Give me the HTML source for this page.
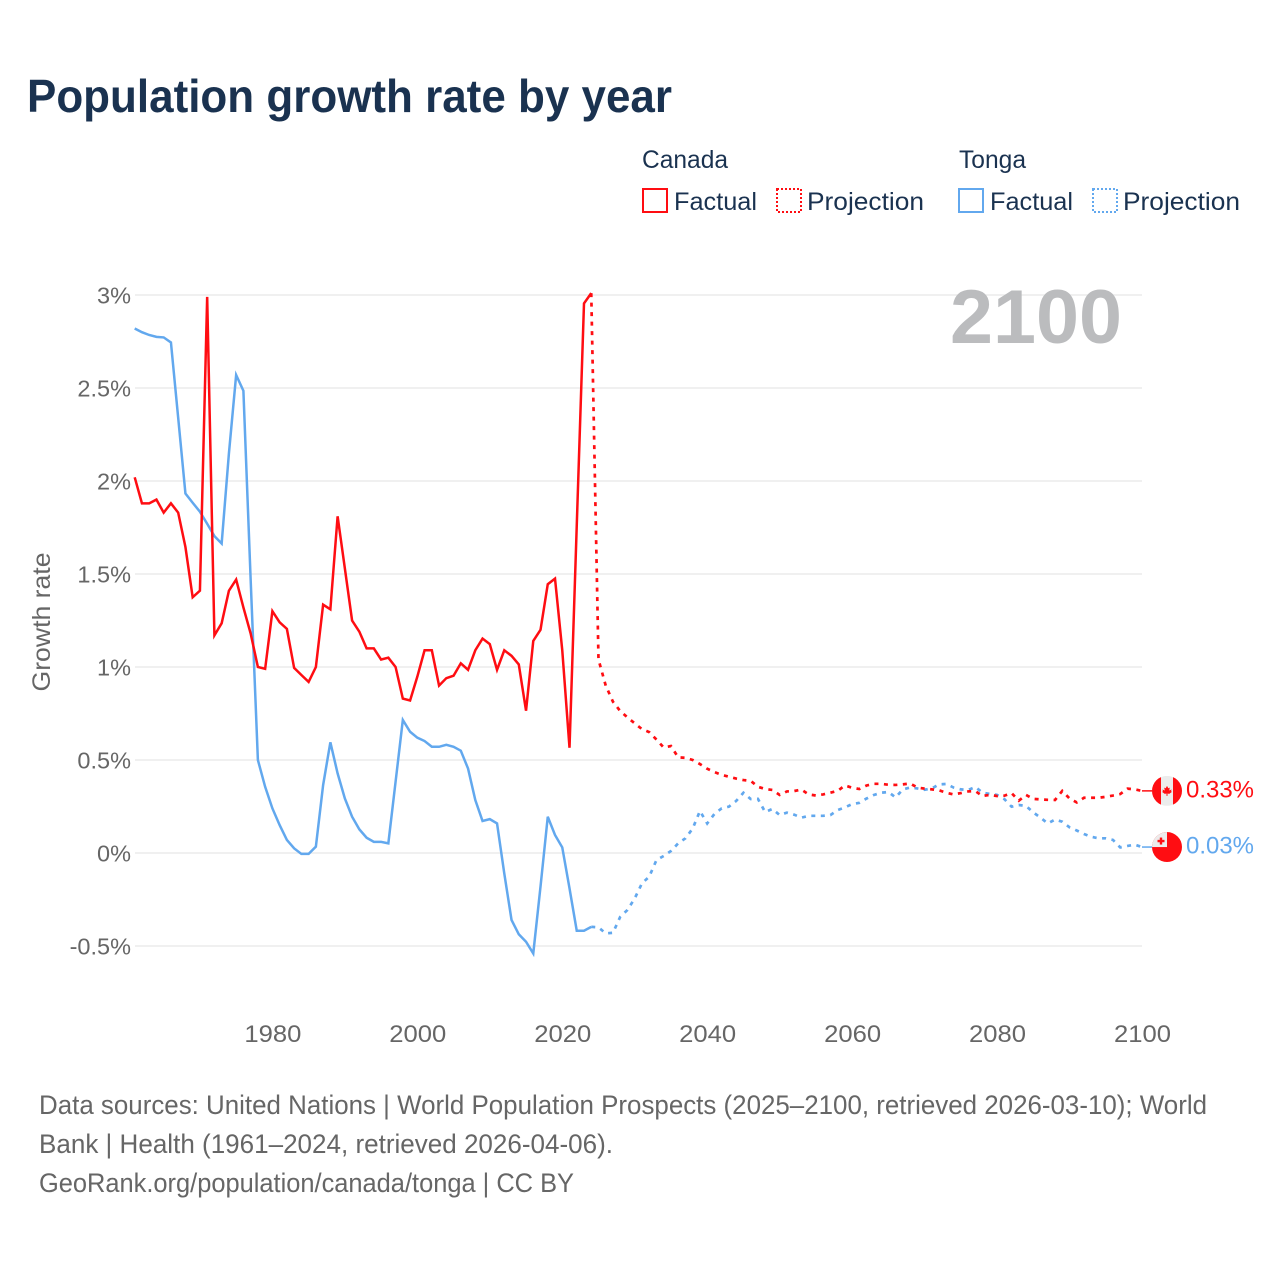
<!DOCTYPE html>
<html lang="en">
<head>
<meta charset="utf-8">
<title>Population growth rate by year</title>
<style>
html,body{margin:0;padding:0;background:#fff;width:1280px;height:1280px;overflow:hidden}
svg{display:block}
text{font-family:"Liberation Sans",Arial,sans-serif}
</style>
</head>
<body>
<svg id="chart" xmlns="http://www.w3.org/2000/svg" width="1280" height="1280" viewBox="0 0 1280 1280">
  <defs>
    <clipPath id="flag-clip"><circle cx="0" cy="0" r="15"/></clipPath>
  </defs>
  <rect x="0" y="0" width="1280" height="1280" fill="#ffffff"/>
  <text x="27" y="112" font-size="46" font-weight="700" fill="#1a3250" textLength="645" lengthAdjust="spacingAndGlyphs">Population growth rate by year</text>

  <g font-size="25" fill="#1a3250">
    <text x="642" y="168" textLength="86" lengthAdjust="spacingAndGlyphs">Canada</text>
    <text x="959" y="168" textLength="67" lengthAdjust="spacingAndGlyphs">Tonga</text>
    <rect x="643" y="189" width="24" height="23" fill="none" stroke="#ff0d12" stroke-width="2"/>
    <text x="674" y="210" textLength="83" lengthAdjust="spacingAndGlyphs">Factual</text>
    <rect x="777" y="189" width="24" height="23" fill="none" stroke="#ff0d12" stroke-width="2" stroke-dasharray="2 2"/>
    <text x="807" y="210" textLength="117" lengthAdjust="spacingAndGlyphs">Projection</text>
    <rect x="959" y="189" width="24" height="23" fill="none" stroke="#62a8ee" stroke-width="2"/>
    <text x="990" y="210" textLength="83" lengthAdjust="spacingAndGlyphs">Factual</text>
    <rect x="1093" y="189" width="24" height="23" fill="none" stroke="#62a8ee" stroke-width="2" stroke-dasharray="2 2"/>
    <text x="1123" y="210" textLength="117" lengthAdjust="spacingAndGlyphs">Projection</text>
  </g>

  <g id="grid"></g>
  <text x="1122" y="343" text-anchor="end" font-size="76" font-weight="700" fill="#bbbcbe" textLength="172" lengthAdjust="spacingAndGlyphs">2100</text>
  <g id="yticks"></g>
  <g id="xticks"></g>
  <text transform="translate(50,622) rotate(-90)" text-anchor="middle" font-size="25" fill="#666666" textLength="139" lengthAdjust="spacingAndGlyphs">Growth rate</text>

  <g id="series"></g>

  <g id="flag-canada">
    <g clip-path="url(#flag-clip)">
      <rect x="-15" y="-15" width="30" height="30" fill="#ececec"/>
      <rect x="-15" y="-15" width="9" height="30" fill="#ff0d12"/>
      <rect x="6" y="-15" width="9" height="30" fill="#ff0d12"/>
      <path d="M0,-5 L1.3,-2.6 L2.8,-3.3 L2.2,-0.4 L4.6,-1.4 L4,0.4 L5,1 L2.2,3 L0.5,2.6 L0.5,5 L-0.5,5 L-0.5,2.6 L-2.2,3 L-5,1 L-4,0.4 L-4.6,-1.4 L-2.2,-0.4 L-2.8,-3.3 L-1.3,-2.6 Z" fill="#ff0d12"/>
    </g>
  </g>
  <g id="flag-tonga">
    <g clip-path="url(#flag-clip)">
      <rect x="-15" y="-15" width="30" height="30" fill="#ff0d12"/>
      <rect x="-15" y="-15" width="15" height="15" fill="#ececec"/>
      <rect x="-7.2" y="-9.5" width="2.4" height="7" fill="#ff0d12"/>
      <rect x="-9.5" y="-7.2" width="7" height="2.4" fill="#ff0d12"/>
    </g>
  </g>
  <text id="label-canada" x="1186" font-size="24" fill="#ff0d12" textLength="68" lengthAdjust="spacingAndGlyphs"></text>
  <text id="label-tonga" x="1186" font-size="24" fill="#62a8ee" textLength="68" lengthAdjust="spacingAndGlyphs"></text>

  <g font-size="27" fill="#666666">
    <text x="39" y="1114" textLength="1168" lengthAdjust="spacingAndGlyphs">Data sources: United Nations | World Population Prospects (2025–2100, retrieved 2026-03-10); World</text>
    <text x="39" y="1153" textLength="574" lengthAdjust="spacingAndGlyphs">Bank | Health (1961–2024, retrieved 2026-04-06).</text>
    <text x="39" y="1192" textLength="535" lengthAdjust="spacingAndGlyphs">GeoRank.org/population/canada/tonga | CC BY</text>
  </g>
</svg>
<script>
const yTickValues = [3, 2.5, 2, 1.5, 1, 0.5, 0, -0.5];
const yTickLabels = ['3%', '2.5%', '2%', '1.5%', '1%', '0.5%', '0%', '-0.5%'];
const xTickValues = [1980, 2000, 2020, 2040, 2060, 2080, 2100];
const xTickLabels = ['1980', '2000', '2020', '2040', '2060', '2080', '2100'];

const factualYears = [1961,1962,1963,1964,1965,1966,1967,1968,1969,1970,1971,1972,1973,1974,1975,1976,1977,1978,1979,1980,1981,1982,1983,1984,1985,1986,1987,1988,1989,1990,1991,1992,1993,1994,1995,1996,1997,1998,1999,2000,2001,2002,2003,2004,2005,2006,2007,2008,2009,2010,2011,2012,2013,2014,2015,2016,2017,2018,2019,2020,2021,2022,2023,2024];
const projectionYears = [2024,2025,2026,2027,2028,2029,2030,2031,2032,2033,2034,2035,2036,2037,2038,2039,2040,2041,2042,2043,2044,2045,2046,2047,2048,2049,2050,2051,2052,2053,2054,2055,2056,2057,2058,2059,2060,2061,2062,2063,2064,2065,2066,2067,2068,2069,2070,2071,2072,2073,2074,2075,2076,2077,2078,2079,2080,2081,2082,2083,2084,2085,2086,2087,2088,2089,2090,2091,2092,2093,2094,2095,2096,2097,2098,2099,2100];

const canadaFactual = [2.02,1.88,1.88,1.90,1.83,1.88,1.83,1.645,1.375,1.41,2.99,1.17,1.235,1.41,1.47,1.32,1.18,1.00,0.99,1.30,1.24,1.205,0.995,0.957,0.92,1.00,1.335,1.31,1.81,1.53,1.25,1.19,1.10,1.10,1.04,1.05,1.00,0.83,0.82,0.948,1.09,1.09,0.90,0.94,0.953,1.02,0.985,1.09,1.153,1.123,0.985,1.09,1.06,1.014,0.765,1.14,1.20,1.445,1.475,1.09,0.566,1.76,2.955,3.01];
const tongaFactual = [2.82,2.80,2.785,2.775,2.772,2.745,2.34,1.933,1.883,1.835,1.77,1.704,1.664,2.148,2.57,2.485,1.47,0.50,0.356,0.24,0.15,0.07,0.025,-0.005,-0.005,0.034,0.365,0.595,0.428,0.293,0.195,0.127,0.082,0.06,0.06,0.052,0.383,0.715,0.652,0.62,0.602,0.571,0.571,0.582,0.571,0.55,0.454,0.285,0.172,0.182,0.159,-0.11,-0.36,-0.437,-0.477,-0.54,-0.18,0.195,0.097,0.03,-0.19,-0.418,-0.418,-0.397];

const canadaProjection = [3.01,1.04,0.90,0.813,0.763,0.729,0.697,0.666,0.65,0.61,0.567,0.575,0.514,0.512,0.50,0.478,0.453,0.435,0.42,0.41,0.40,0.392,0.388,0.356,0.344,0.339,0.312,0.331,0.333,0.341,0.315,0.309,0.315,0.324,0.334,0.363,0.351,0.344,0.363,0.372,0.372,0.367,0.366,0.369,0.374,0.352,0.346,0.342,0.337,0.324,0.315,0.322,0.331,0.333,0.306,0.313,0.306,0.308,0.322,0.281,0.312,0.291,0.288,0.286,0.285,0.334,0.293,0.272,0.297,0.297,0.297,0.302,0.309,0.317,0.346,0.342,0.334];
const tongaProjection = [-0.397,-0.40,-0.432,-0.429,-0.343,-0.306,-0.244,-0.163,-0.127,-0.038,-0.016,0.011,0.052,0.079,0.132,0.226,0.159,0.21,0.24,0.249,0.28,0.324,0.29,0.291,0.22,0.237,0.204,0.217,0.206,0.19,0.2,0.2,0.2,0.204,0.231,0.245,0.263,0.27,0.293,0.312,0.324,0.328,0.299,0.342,0.352,0.347,0.34,0.347,0.369,0.371,0.352,0.342,0.339,0.355,0.324,0.318,0.312,0.29,0.249,0.258,0.253,0.218,0.19,0.159,0.18,0.168,0.138,0.121,0.102,0.087,0.079,0.079,0.07,0.03,0.038,0.045,0.032];

const endValueLabels = ['0.33%', '0.03%'];

const SVG_NS = 'http://www.w3.org/2000/svg';
const RED = '#ff0d12';
const BLUE = '#62a8ee';
function xScale(year) { return 134.7 + (year - 1961) * (1142 - 134.7) / (2100 - 1961); }
function yScale(value) { return 853 - value * 186; }
function make(tag) { return document.createElementNS(SVG_NS, tag); }

const gridGroup = document.getElementById('grid');
const yTickGroup = document.getElementById('yticks');
yTickValues.forEach(function (v, i) {
  const line = make('line');
  
  
  line.setAttribute('x1', 135);
  line.setAttribute('x2', 1142);
  line.setAttribute('y1', yScale(v));
  line.setAttribute('y2', yScale(v));
  line.setAttribute('stroke', '#ececec');
  line.setAttribute('stroke-width', '1.4');
  gridGroup.appendChild(line);

  const label = make('text');
  
  
  label.setAttribute('x', 131);
  label.setAttribute('y', yScale(v) + 8.5);
  label.setAttribute('text-anchor', 'end');
  label.setAttribute('font-size', '23.5');
  label.setAttribute('fill', '#666666');
  label.textContent = yTickLabels[i];
  yTickGroup.appendChild(label);
});

const xTickGroup = document.getElementById('xticks');
xTickValues.forEach(function (v, i) {
  const label = make('text');
  
  
  label.setAttribute('x', xScale(v) + 0.5);
  label.setAttribute('y', 1042);
  label.setAttribute('text-anchor', 'middle');
  label.setAttribute('font-size', '24');
  label.setAttribute('fill', '#666666');
  label.setAttribute('textLength', '57');
  label.setAttribute('lengthAdjust', 'spacingAndGlyphs');
  label.textContent = xTickLabels[i];
  xTickGroup.appendChild(label);
});

function pointsFor(years, values) {
  return values.map(function (v, i) {
    return xScale(years[i]).toFixed(2) + ',' + yScale(v).toFixed(2);
  }).join(' ');
}

const seriesGroup = document.getElementById('series');

const tongaProjectionLine = make('polyline');


tongaProjectionLine.setAttribute('points', pointsFor(projectionYears, tongaProjection));
tongaProjectionLine.setAttribute('fill', 'none');
tongaProjectionLine.setAttribute('stroke', BLUE);
tongaProjectionLine.setAttribute('stroke-width', '2.7');
tongaProjectionLine.setAttribute('stroke-dasharray', '4 5.5');
seriesGroup.appendChild(tongaProjectionLine);

const canadaProjectionLine = make('polyline');


canadaProjectionLine.setAttribute('points', pointsFor(projectionYears, canadaProjection));
canadaProjectionLine.setAttribute('fill', 'none');
canadaProjectionLine.setAttribute('stroke', RED);
canadaProjectionLine.setAttribute('stroke-width', '2.7');
canadaProjectionLine.setAttribute('stroke-dasharray', '4 5.5');
seriesGroup.appendChild(canadaProjectionLine);

const tongaFactualLine = make('polyline');


tongaFactualLine.setAttribute('points', pointsFor(factualYears, tongaFactual));
tongaFactualLine.setAttribute('fill', 'none');
tongaFactualLine.setAttribute('stroke', BLUE);
tongaFactualLine.setAttribute('stroke-width', '2.5');
seriesGroup.appendChild(tongaFactualLine);

const canadaFactualLine = make('polyline');


canadaFactualLine.setAttribute('points', pointsFor(factualYears, canadaFactual));
canadaFactualLine.setAttribute('fill', 'none');
canadaFactualLine.setAttribute('stroke', RED);
canadaFactualLine.setAttribute('stroke-width', '2.5');
seriesGroup.appendChild(canadaFactualLine);

const canadaEndY = yScale(canadaProjection[canadaProjection.length - 1]);
const tongaEndY = yScale(tongaProjection[tongaProjection.length - 1]);
const endX = xScale(projectionYears[projectionYears.length - 1]);

const canadaConnector = make('line');


canadaConnector.setAttribute('x1', endX);
canadaConnector.setAttribute('x2', 1152);
canadaConnector.setAttribute('y1', canadaEndY);
canadaConnector.setAttribute('y2', canadaEndY);
canadaConnector.setAttribute('stroke', RED);
canadaConnector.setAttribute('stroke-width', '1.5');
seriesGroup.appendChild(canadaConnector);

const tongaConnector = make('line');


tongaConnector.setAttribute('x1', endX);
tongaConnector.setAttribute('x2', 1152);
tongaConnector.setAttribute('y1', tongaEndY);
tongaConnector.setAttribute('y2', tongaEndY);
tongaConnector.setAttribute('stroke', BLUE);
tongaConnector.setAttribute('stroke-width', '1.5');
seriesGroup.appendChild(tongaConnector);

document.getElementById('flag-canada').setAttribute('transform', 'translate(1167,' + canadaEndY + ')');
document.getElementById('flag-tonga').setAttribute('transform', 'translate(1167,' + tongaEndY + ')');

const canadaLabel = document.getElementById('label-canada');
canadaLabel.setAttribute('y', canadaEndY + 6.5);
canadaLabel.textContent = endValueLabels[0];
const tongaLabel = document.getElementById('label-tonga');
tongaLabel.setAttribute('y', tongaEndY + 6.5);
tongaLabel.textContent = endValueLabels[1];
</script>
</body>
</html>
